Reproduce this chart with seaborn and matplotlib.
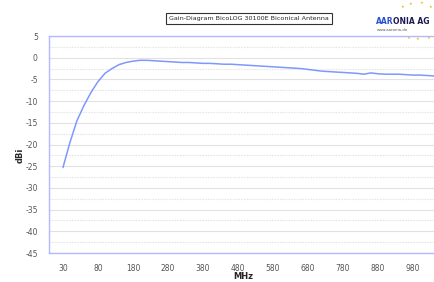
import pandas as pd
import seaborn as sns
import matplotlib.pyplot as plt

# frequencies (MHz) and gain (dBi)
freq = [30, 40, 50, 60, 70, 80] + list(range(100, 1041, 20))
gain = [-25.3, -19.5, -14.5, -11.0, -8.0, -5.5, -3.6, -2.5, -1.6, -1.1,
        -0.8, -0.6, -0.6, -0.7, -0.8, -0.9, -1.0, -1.1, -1.1, -1.2,
        -1.3, -1.3, -1.4, -1.5, -1.5, -1.6, -1.7, -1.8, -1.9, -2.0,
        -2.1, -2.2, -2.3, -2.4, -2.5, -2.7, -2.9, -3.1, -3.2, -3.3,
        -3.4, -3.5, -3.6, -3.8, -3.5, -3.7, -3.8, -3.8, -3.8, -3.9,
        -4.0, -4.0, -4.1, -4.2]
y_ticks = [5, 0, -5, -10, -15, -20, -25, -30, -35, -40, -45]
title = "Gain-Diagram BicoLOG 30100E Biconical Antenna"

df = pd.DataFrame({"MHz": [str(f) for f in freq], "dBi": gain})

sns.set_style("white")
fig = plt.figure(figsize=(4.35, 2.82), dpi=100)
ax = fig.add_axes([0.1126, 0.1028, 0.901, 0.7695])

# grid: solid at every 5, dotted in between
for v in range(-45, 6, 5):
    ax.axhline(v, color="#e2e2e2", lw=0.8, zorder=0)
for v in [x + 2.5 for x in range(-45, 5, 5)]:
    ax.axhline(v, color="#e6e6e6", lw=0.8, ls=(0, (1.5, 1)), zorder=0)

sns.lineplot(data=df, x="MHz", y="dBi", sort=False, color="#7d98ff", lw=1.1, ax=ax)

ax.set_xlim(-2, 54)
ax.set_ylim(-45, 5)
ax.set_yticks(y_ticks)
ax.set_yticklabels([str(t) for t in y_ticks])
pos = list(range(0, len(freq), 5))[:11]
ax.set_xticks(pos)
ax.set_xticklabels([str(freq[i]) for i in pos])
ax.tick_params(length=0, labelsize=5.5, labelcolor="#555555", pad=8)
ax.set_xlabel("")
ax.set_ylabel("")
for s in ["left", "bottom", "top"]:
    ax.spines[s].set_color("#b4b8ff")
    ax.spines[s].set_linewidth(1)
ax.spines["right"].set_visible(False)

fig.text(0.56, 0.018, "MHz", fontsize=6, fontweight="bold", ha="center", va="center")
fig.text(0.046, 0.45, "dBi", fontsize=6, fontweight="bold", rotation=90, ha="center", va="center")

fig.text(0.572, 0.935, title, fontsize=4.6, ha="center", va="center",
         bbox=dict(boxstyle="square,pad=0.5", fc="white", ec="#333333", lw=0.8))

# logo: "AAR" blue followed by "ONIA AG"
fig.text(0.865, 0.925, "AAR", fontsize=5.5, fontweight="bold", color="#2a4fd0", ha="left", va="center")
fig.text(0.9035, 0.925, "ONIA AG", fontsize=5.5, fontweight="bold", color="#1c1c55", ha="left", va="center")
fig.text(0.867, 0.892, "www.aaronia.de", fontsize=2.8, color="#555555", ha="left", va="center")
for sx, sy in [(0.925, 0.975), (0.945, 0.985), (0.97, 0.99), (0.99, 0.975), (0.96, 0.86), (0.985, 0.865), (0.94, 0.865)]:
    fig.text(sx, sy, "\u2605", fontsize=3, color="#e8c020", ha="center", va="center")

fig.savefig("out.png", dpi=100)
